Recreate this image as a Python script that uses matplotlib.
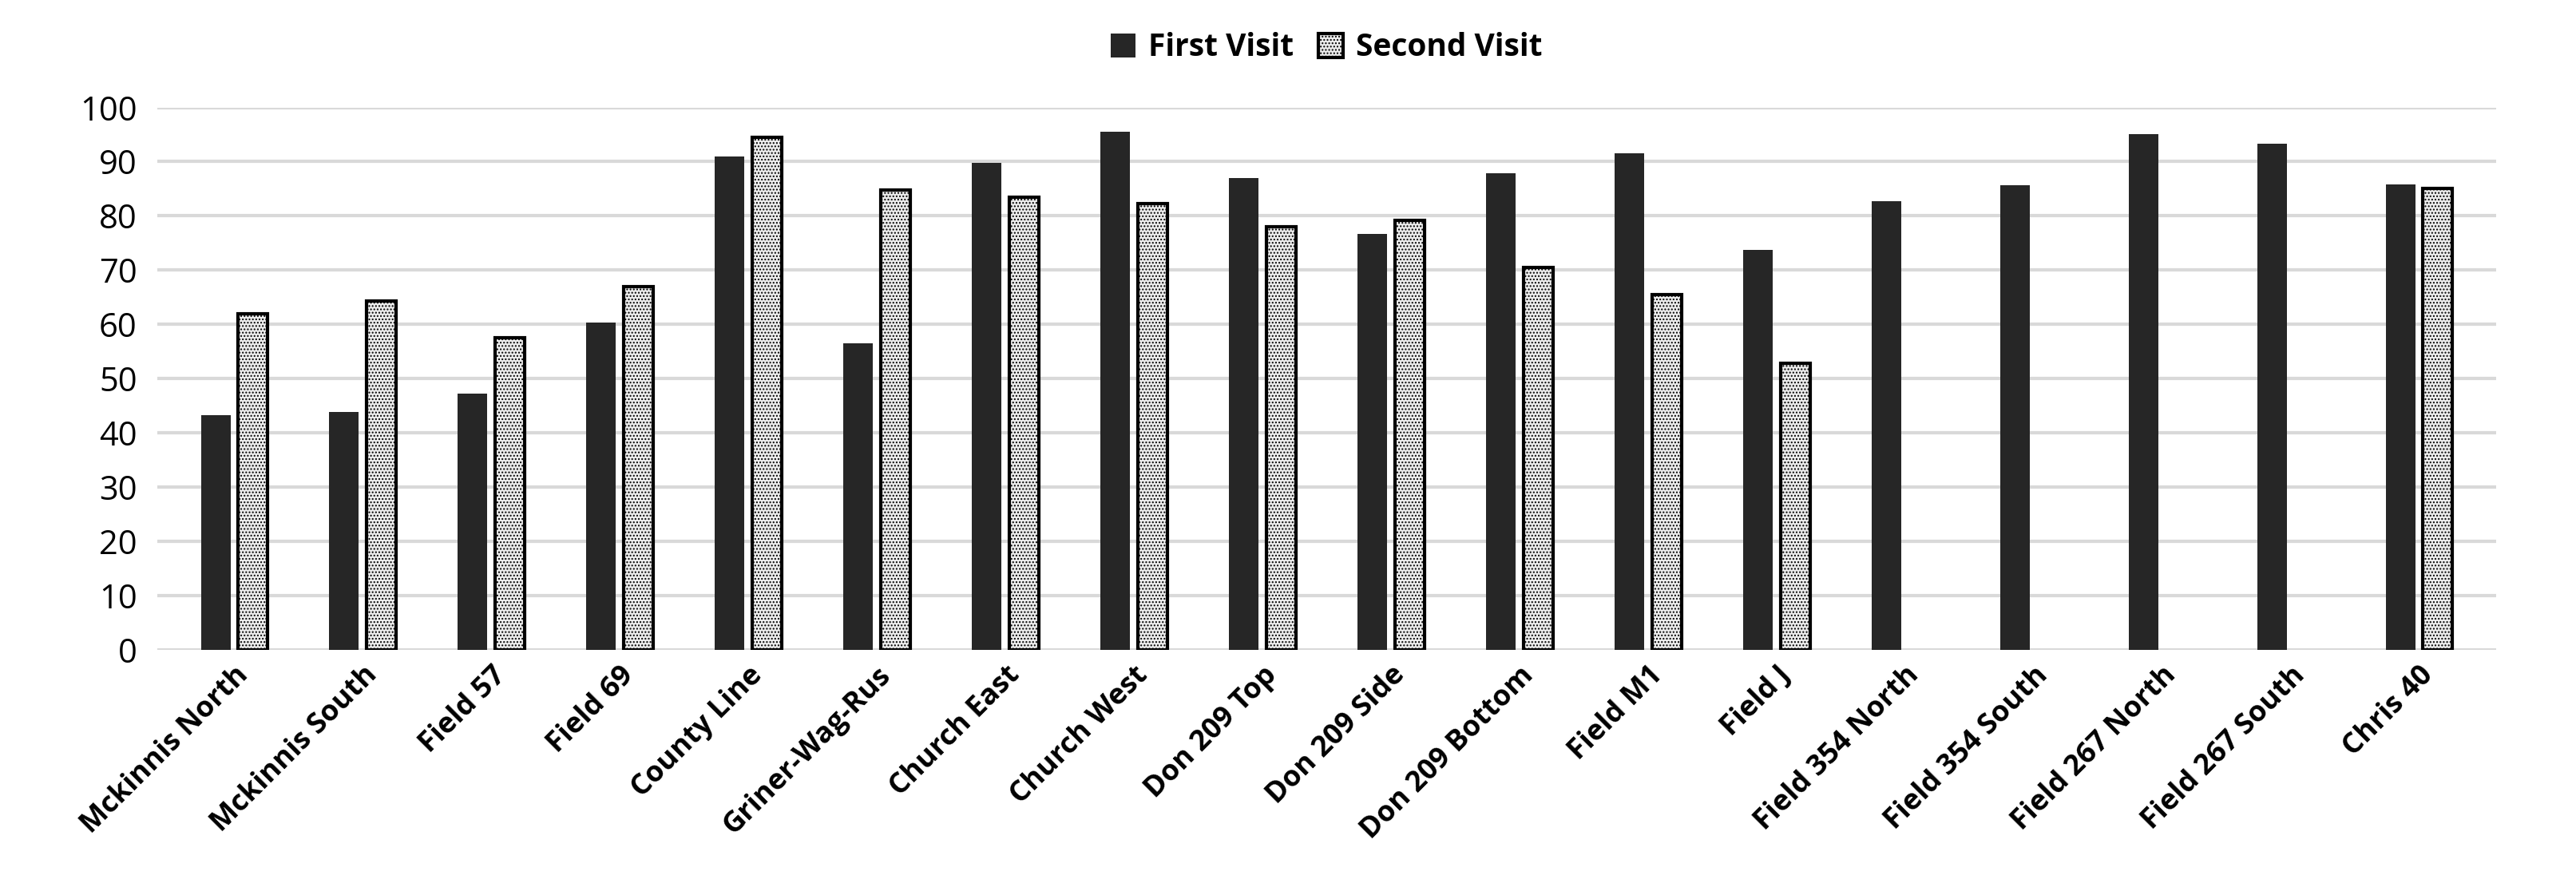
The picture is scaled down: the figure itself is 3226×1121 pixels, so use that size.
import numpy as np
import matplotlib.pyplot as plt

sites = ["Mckinnis North", "Mckinnis South", "Field 57", "Field 69", "County Line",
         "Griner-Wag-Rus", "Church East", "Church West", "Don 209 Top", "Don 209 Side",
         "Don 209 Bottom", "Field M1", "Field J", "Field 354 North", "Field 354 South",
         "Field 267 North", "Field 267 South", "Chris 40"]
first_visit = [43.3, 43.8, 47.3, 60.3, 91.0, 56.5, 89.8, 95.5, 87.0, 76.7,
               87.8, 91.5, 73.8, 82.7, 85.6, 95.0, 93.3, 85.8]
second_visit = [62.0, 64.3, 57.5, 67.0, 94.5, 84.7, 83.5, 82.2, 78.0, 79.2,
                70.5, 65.5, 52.8, np.nan, np.nan, np.nan, np.nan, 85.0]

plt.rcParams['font.family'] = ['Open Sans', 'DejaVu Sans']
plt.rcParams['hatch.color'] = '#c8c8c8'
plt.rcParams['hatch.linewidth'] = 1.0

fig = plt.figure(figsize=(32.26, 11.21), dpi=100)
ax = fig.add_axes([0.061, 0.274, 0.908, 0.606])

x = np.arange(len(sites))
w = 0.23
ax.bar(x - 0.145, first_visit, w, color='#262626', label='First Visit', zorder=3)
ax.bar(x + 0.145, second_visit, w, color='#ececec', edgecolor='black', linewidth=3,
       hatch='....', label='Second Visit', zorder=3)

ax.set_ylim(0, 100)
ax.set_xlim(-0.6, len(sites) - 0.4)
ax.set_yticks(range(0, 101, 10))
ax.tick_params(axis='y', labelsize=30, length=0, pad=18)
ax.tick_params(axis='x', length=0, pad=10)
ax.set_xticks(x)
ax.set_xticklabels(sites, rotation=45, ha='right', rotation_mode='anchor',
                   fontsize=26, fontweight='bold')
ax.yaxis.grid(True, color='#d9d9d9', linewidth=3, zorder=0)
for s in ax.spines.values():
    s.set_visible(False)

leg = ax.legend(loc='lower center', bbox_to_anchor=(0.5, 1.03), ncol=2, frameon=False,
                prop={'size': 28, 'weight': 'bold'}, handlelength=0.8, handleheight=0.8,
                columnspacing=0.8, handletextpad=0.4)

fig.savefig('out.png', dpi=100, facecolor='white')
